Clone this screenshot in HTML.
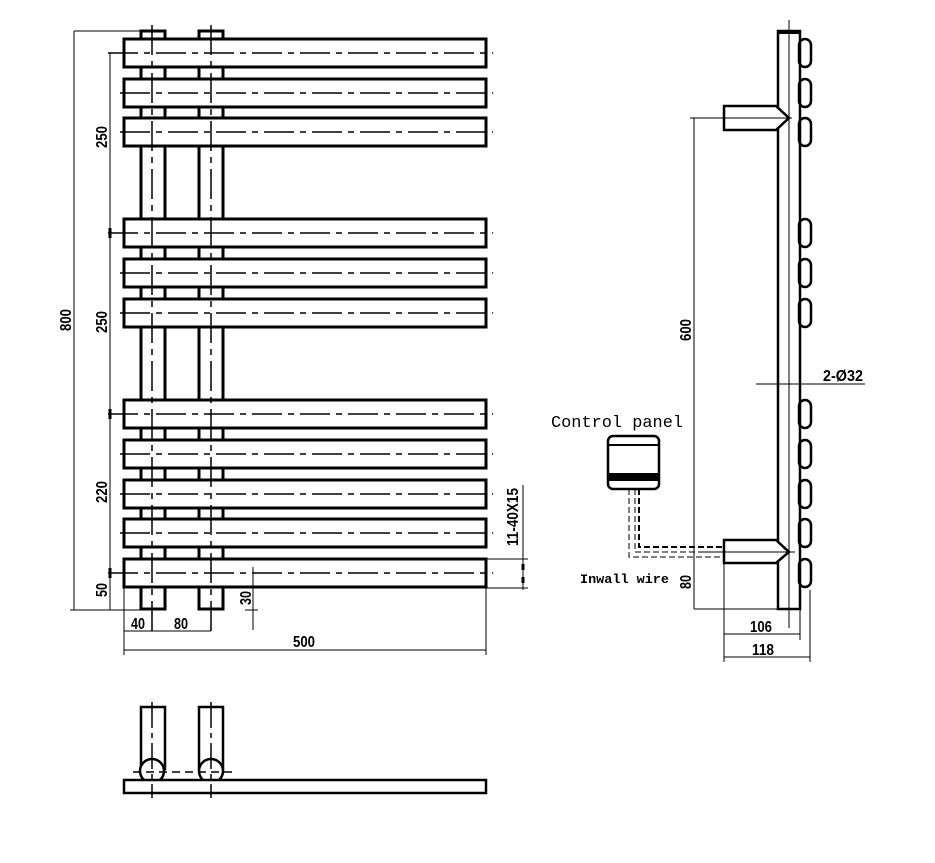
<!DOCTYPE html>
<html><head><meta charset="utf-8"><style>
html,body{margin:0;padding:0;background:#fff;}
svg{display:block;}
text{font-family:"Liberation Sans",sans-serif;font-weight:bold;fill:#000;}
text.mono{font-family:"Liberation Mono",monospace;}
</style></head><body>
<svg width="935" height="863" viewBox="0 0 935 863" xmlns="http://www.w3.org/2000/svg">
<g fill="none" stroke="#000">
<rect x="141" y="31" width="24" height="578" stroke-width="3" fill="#fff"/>
<rect x="199" y="31" width="24" height="578" stroke-width="3" fill="#fff"/>
<g stroke-width="3" fill="#fff">
<rect x="124" y="39" width="362" height="28"/>
<rect x="124" y="79" width="362" height="28"/>
<rect x="124" y="118" width="362" height="28"/>
<rect x="124" y="219" width="362" height="28"/>
<rect x="124" y="259" width="362" height="28"/>
<rect x="124" y="299" width="362" height="28"/>
<rect x="124" y="400" width="362" height="28"/>
<rect x="124" y="440" width="362" height="28"/>
<rect x="124" y="480" width="362" height="28"/>
<rect x="124" y="519" width="362" height="28"/>
<rect x="124" y="559" width="362" height="28"/>
</g>
<g stroke-width="1.5" stroke-dasharray="30 6 6 6">
<line x1="108" y1="53" x2="493" y2="53"/>
<line x1="120" y1="93" x2="493" y2="93"/>
<line x1="120" y1="132" x2="493" y2="132"/>
<line x1="108" y1="233" x2="493" y2="233"/>
<line x1="120" y1="273" x2="493" y2="273"/>
<line x1="120" y1="313" x2="493" y2="313"/>
<line x1="108" y1="414" x2="493" y2="414"/>
<line x1="120" y1="454" x2="493" y2="454"/>
<line x1="120" y1="494" x2="493" y2="494"/>
<line x1="120" y1="533" x2="493" y2="533"/>
<line x1="108" y1="573" x2="493" y2="573"/>
</g>
<g stroke-width="1.5" stroke-dasharray="30 6 6 6">
<line x1="152" y1="25" x2="152" y2="635"/>
<line x1="211" y1="25" x2="211" y2="635"/>
</g>
<g stroke-width="1">
<line x1="74" y1="31" x2="141" y2="31"/>
<line x1="70" y1="610" x2="165" y2="610"/>
<line x1="74" y1="31" x2="74" y2="610"/>
<line x1="110" y1="53" x2="110" y2="610"/>
<line x1="124" y1="588" x2="124" y2="655"/>
<line x1="486" y1="588" x2="486" y2="655"/>
<line x1="124" y1="631" x2="211" y2="631"/>
<line x1="124" y1="650" x2="486" y2="650"/>
<line x1="253" y1="567" x2="253" y2="630"/>
<line x1="245" y1="610" x2="258" y2="610"/>
<line x1="486" y1="559" x2="528" y2="559"/>
<line x1="486" y1="588" x2="528" y2="588"/>
<line x1="523" y1="485" x2="523" y2="590"/>
</g>
<g stroke-width="3">
<line x1="110" y1="228" x2="110" y2="238"/>
<line x1="110" y1="409" x2="110" y2="419"/>
<line x1="110" y1="568" x2="110" y2="578"/>
<line x1="523" y1="564" x2="523" y2="570"/>
<line x1="523" y1="577" x2="523" y2="583"/>
</g>
<rect x="141" y="707" width="24" height="62" stroke-width="2.5"/>
<rect x="199" y="707" width="24" height="62" stroke-width="2.5"/>
<circle cx="152" cy="771" r="12" stroke-width="2.5" fill="#fff"/>
<circle cx="211" cy="771" r="12" stroke-width="2.5" fill="#fff"/>
<rect x="124" y="780" width="362" height="13" stroke-width="2.5" fill="#fff"/>
<line x1="133" y1="772" x2="232" y2="772" stroke-width="1.5" stroke-dasharray="8 5"/>
<line x1="152" y1="702" x2="152" y2="798" stroke-width="1.5" stroke-dasharray="26 5 5 5"/>
<line x1="211" y1="702" x2="211" y2="798" stroke-width="1.5" stroke-dasharray="26 5 5 5"/>
<rect x="778" y="31" width="22" height="578" stroke-width="2.5" fill="#fff"/>
<line x1="778" y1="32" x2="800" y2="32" stroke-width="4"/>
<line x1="789" y1="20" x2="789" y2="628" stroke-width="1"/>
<g stroke-width="2.5">
<rect x="799" y="39" width="12" height="28" rx="6"/>
<rect x="799" y="79" width="12" height="28" rx="6"/>
<rect x="799" y="118" width="12" height="28" rx="6"/>
<rect x="799" y="219" width="12" height="28" rx="6"/>
<rect x="799" y="259" width="12" height="28" rx="6"/>
<rect x="799" y="299" width="12" height="28" rx="6"/>
<rect x="799" y="400" width="12" height="28" rx="6"/>
<rect x="799" y="440" width="12" height="28" rx="6"/>
<rect x="799" y="480" width="12" height="28" rx="6"/>
<rect x="799" y="519" width="12" height="28" rx="6"/>
<rect x="799" y="559" width="12" height="28" rx="6"/>
</g>
<polygon points="724,106 776,106 789,118 776,130 724,130" stroke-width="2.5" fill="#fff"/>
<polygon points="724,540 776,540 789,552 776,563 724,563" stroke-width="2.5" fill="#fff"/>
<g stroke-width="1">
<line x1="690" y1="118" x2="792" y2="118"/>
<line x1="694" y1="118" x2="694" y2="609"/>
<line x1="694" y1="609" x2="800" y2="609"/>
<line x1="700" y1="552" x2="795" y2="552"/>
<line x1="724" y1="563" x2="724" y2="662"/>
<line x1="810" y1="590" x2="810" y2="662"/>
<line x1="800" y1="609" x2="800" y2="640"/>
<line x1="724" y1="634" x2="800" y2="634"/>
<line x1="724" y1="657" x2="810" y2="657"/>
<line x1="756" y1="384" x2="865" y2="384"/>
</g>
<rect x="608" y="436" width="51" height="53" rx="5" stroke-width="2.5" fill="#fff"/>
<line x1="609" y1="445" x2="658" y2="445" stroke-width="2"/>
<rect x="609" y="473" width="49" height="8" fill="#000" stroke="none"/>
<polyline points="639,489 639,547 724,547" stroke-width="2" stroke-dasharray="6 3"/>
<polyline points="635,489 635,552 724,552" stroke-width="1" stroke-dasharray="6 3"/>
<polyline points="629,489 629,557 724,557" stroke-width="1" stroke-dasharray="6 3"/>
</g>
<g font-size="16">
<text transform="translate(66,320) rotate(-90)" text-anchor="middle" dy="5" textLength="22" lengthAdjust="spacingAndGlyphs">800</text>
<text transform="translate(102,137) rotate(-90)" text-anchor="middle" dy="5" textLength="22" lengthAdjust="spacingAndGlyphs">250</text>
<text transform="translate(102,322) rotate(-90)" text-anchor="middle" dy="5" textLength="22" lengthAdjust="spacingAndGlyphs">250</text>
<text transform="translate(102,492) rotate(-90)" text-anchor="middle" dy="5" textLength="22" lengthAdjust="spacingAndGlyphs">220</text>
<text transform="translate(102,590) rotate(-90)" text-anchor="middle" dy="5" textLength="14" lengthAdjust="spacingAndGlyphs">50</text>
<text transform="translate(246,598) rotate(-90)" text-anchor="middle" dy="5" textLength="14" lengthAdjust="spacingAndGlyphs">30</text>
<text transform="translate(513,517) rotate(-90)" text-anchor="middle" dy="5" textLength="58" lengthAdjust="spacingAndGlyphs">11-40X15</text>
<text transform="translate(686,330) rotate(-90)" text-anchor="middle" dy="5" textLength="22" lengthAdjust="spacingAndGlyphs">600</text>
<text transform="translate(686,582) rotate(-90)" text-anchor="middle" dy="5" textLength="14" lengthAdjust="spacingAndGlyphs">80</text>
<text x="131" y="629" textLength="14" lengthAdjust="spacingAndGlyphs">40</text>
<text x="174" y="629" textLength="14" lengthAdjust="spacingAndGlyphs">80</text>
<text x="293" y="647" textLength="22" lengthAdjust="spacingAndGlyphs">500</text>
<text x="750" y="632" textLength="22" lengthAdjust="spacingAndGlyphs">106</text>
<text x="752" y="655" textLength="22" lengthAdjust="spacingAndGlyphs">118</text>
<text x="823" y="381" textLength="40" lengthAdjust="spacingAndGlyphs">2-Ø32</text>
</g>
<text class="mono" x="551" y="427" style="font-weight:normal" font-size="17" textLength="132" lengthAdjust="spacingAndGlyphs">Control panel</text>
<text class="mono" x="580" y="583" font-size="13" textLength="89" lengthAdjust="spacingAndGlyphs">Inwall wire</text>
</svg>
</body></html>
